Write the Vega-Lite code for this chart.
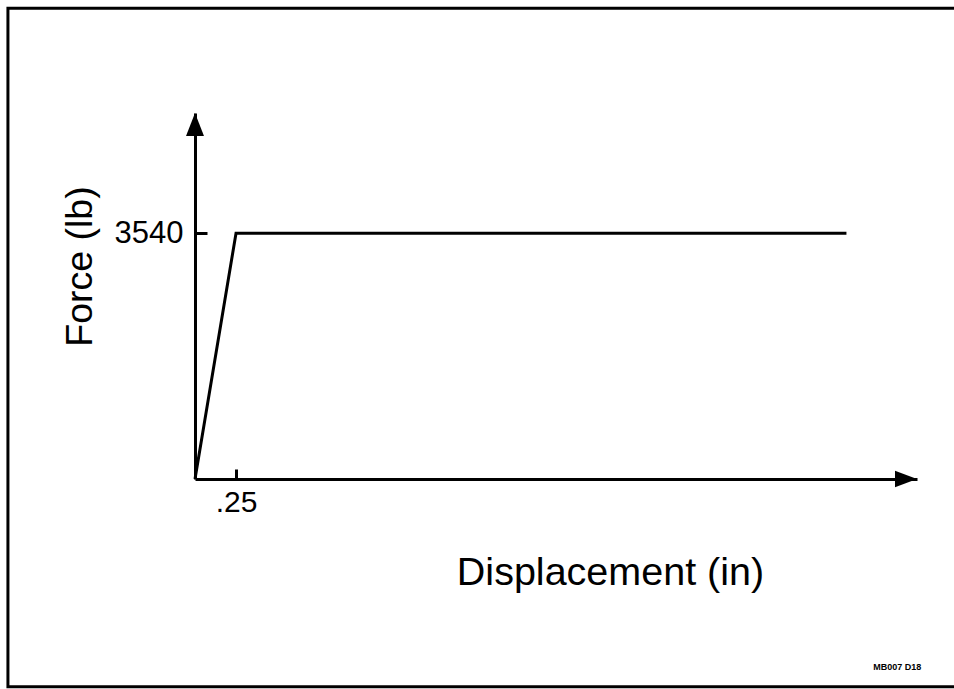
{
  "$schema": "https://vega.github.io/schema/vega-lite/v6.json",
  "width": 722,
  "height": 366,
  "autosize": {"type": "none"},
  "padding": {"left": 195, "top": 113, "right": 37, "bottom": 210},
  "background": "white",
  "config": {
    "view": {"stroke": null},
    "font": "Liberation Sans",
    "axis": {"grid": false, "domainColor": "black", "domainWidth": 3, "tickColor": "black", "tickWidth": 3, "labelColor": "black", "titleColor": "black", "labelFont": "Liberation Sans", "titleFont": "Liberation Sans", "titleFontWeight": "normal"}
  },
  "datasets": {
    "curve": [
      {"x": 0, "y": 0},
      {"x": 0.25, "y": 3540},
      {"x": 3.97, "y": 3540}
    ],
    "frame": [
      {"x": -1.14, "x2": 4.9, "y": -2990, "y2": 6778}
    ],
    "arrowUp": [{"x": 0, "y": 5270}],
    "arrowRight": [{"x": 4.4, "y": 0}],
    "note": [{"x": 4.28, "y": -2705, "label": "MB007 D18"}]
  },
  "layer": [
    {
      "data": {"name": "frame"},
      "mark": {"type": "rect", "fill": null, "fillOpacity": 0, "stroke": "black", "strokeWidth": 3},
      "encoding": {
        "x": {"field": "x", "type": "quantitative", "scale": {"domain": [0, 4.4], "nice": false, "zero": false}},
        "x2": {"field": "x2"},
        "y": {"field": "y", "type": "quantitative", "scale": {"domain": [0, 5270], "nice": false, "zero": false}},
        "y2": {"field": "y2"}
      }
    },
    {
      "data": {"name": "curve"},
      "mark": {"type": "line", "color": "black", "strokeWidth": 3, "strokeJoin": "miter"},
      "encoding": {
        "x": {
          "field": "x", "type": "quantitative",
          "scale": {"domain": [0, 4.4], "nice": false, "zero": false},
          "axis": {
            "title": "Displacement (in)", "titleFontSize": 39.5, "titleX": 415, "titleY": 93, "titleAlign": "center", "titleBaseline": "middle",
            "values": [0.25], "labelExpr": "replace(format(datum.value, '.2f'), '0.', '.')",
            "labelFontSize": 30, "tickSize": -10, "labelPadding": 18
          }
        },
        "y": {
          "field": "y", "type": "quantitative",
          "scale": {"domain": [0, 5270], "nice": false, "zero": false},
          "axis": {
            "title": "Force (lb)", "titleFontSize": 37.5, "titleX": -115, "titleY": 153, "titleAlign": "center", "titleBaseline": "middle", "titleAngle": -90,
            "values": [3540], "format": "d",
            "labelFontSize": 31, "tickSize": -12, "labelPadding": 24
          }
        }
      }
    },
    {
      "data": {"name": "arrowUp"},
      "mark": {"type": "point", "filled": true, "color": "black", "opacity": 1, "shape": "M0,0L0.39,1L-0.39,1Z", "size": 2116},
      "encoding": {
        "x": {"field": "x", "type": "quantitative"},
        "y": {"field": "y", "type": "quantitative"}
      }
    },
    {
      "data": {"name": "arrowRight"},
      "mark": {"type": "point", "filled": true, "color": "black", "opacity": 1, "shape": "M0,0L-1,-0.38L-1,0.38Z", "size": 1936},
      "encoding": {
        "x": {"field": "x", "type": "quantitative"},
        "y": {"field": "y", "type": "quantitative"}
      }
    },
    {
      "data": {"name": "note"},
      "mark": {"type": "text", "color": "black", "fontSize": 9, "fontWeight": "bold", "font": "Liberation Sans", "align": "center", "baseline": "middle"},
      "encoding": {
        "x": {"field": "x", "type": "quantitative"},
        "y": {"field": "y", "type": "quantitative"},
        "text": {"field": "label"}
      }
    }
  ]
}
